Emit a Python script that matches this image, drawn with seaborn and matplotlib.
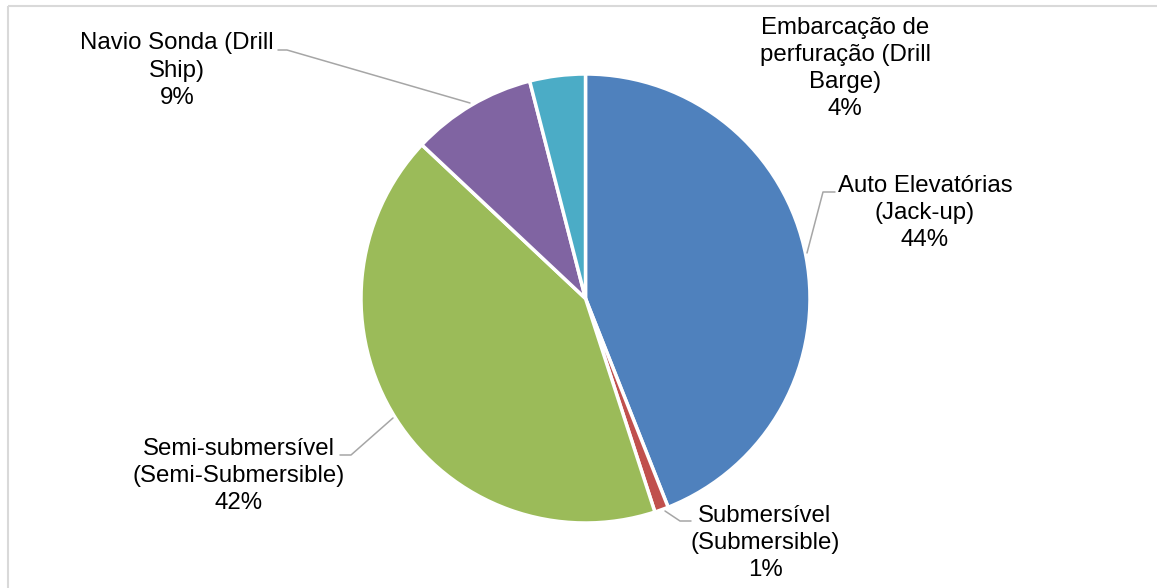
import matplotlib
matplotlib.use("Agg")
import matplotlib.pyplot as plt
import seaborn as sns

# Drilling rig types and their share of the fleet (%)
categories = [
    "Auto Elevatórias\n(Jack-up)",
    "Submersível\n(Submersible)",
    "Semi-submersível\n(Semi-Submersible)",
    "Navio Sonda (Drill\nShip)",
    "Embarcação de\nperfuração (Drill\nBarge)",
]
shares = [44, 1, 42, 9, 4]
slice_colors = ["#4F81BD", "#C0504D", "#9BBB59", "#8064A2", "#4BACC6"]

sns.set_theme(style="white")
plt.rcParams["font.family"] = ["Liberation Sans", "DejaVu Sans"]

W, H = 1157, 588
fig = plt.figure(figsize=(W / 100, H / 100), dpi=100)
ax = fig.add_axes([0, 0, 1, 1])

palette = sns.color_palette(slice_colors)
cx, cy, r = 585.5, H - 298.5, 224.5
ax.pie(shares, colors=palette, startangle=90, counterclock=False,
       radius=r, center=(cx, cy),
       wedgeprops=dict(edgecolor="white", linewidth=2.5))
ax.set_xlim(0, W)
ax.set_ylim(0, H)
ax.set_aspect("equal")
ax.axis("off")

# Chart frame (top and left edges visible)
frame_kw = dict(color="#D9D9D9", lw=1.5, solid_capstyle="butt")
ax.plot([8, W], [H - 6, H - 6], **frame_kw)
ax.plot([8, 8], [0, H - 6], **frame_kw)

# Data labels: (centre x, centre y) in pixels from top-left, plus leader path
label_pos = [(925, 213), (765, 543), (239, 476), (177, 70.5), (845, 68.5)]
leaders = [
    [(807, 253), (823, 192), (835, 192)],
    [(665, 511), (680, 521), (691, 521)],
    [(393, 418), (351, 455), (340, 455)],
    [(470, 103), (287, 50), (278, 50)],
    None,
]

for name, val, (lx, ly), path in zip(categories, shares, label_pos, leaders):
    ax.text(lx, H - ly, f"{name}\n{val}%", ha="center", va="center",
            fontsize=17.3, color="#000000", linespacing=1.3)
    if path:
        xs = [p[0] for p in path]
        ys = [H - p[1] for p in path]
        ax.plot(xs, ys, color="#A6A6A6", lw=1.1)

fig.savefig("out.png", dpi=100)
